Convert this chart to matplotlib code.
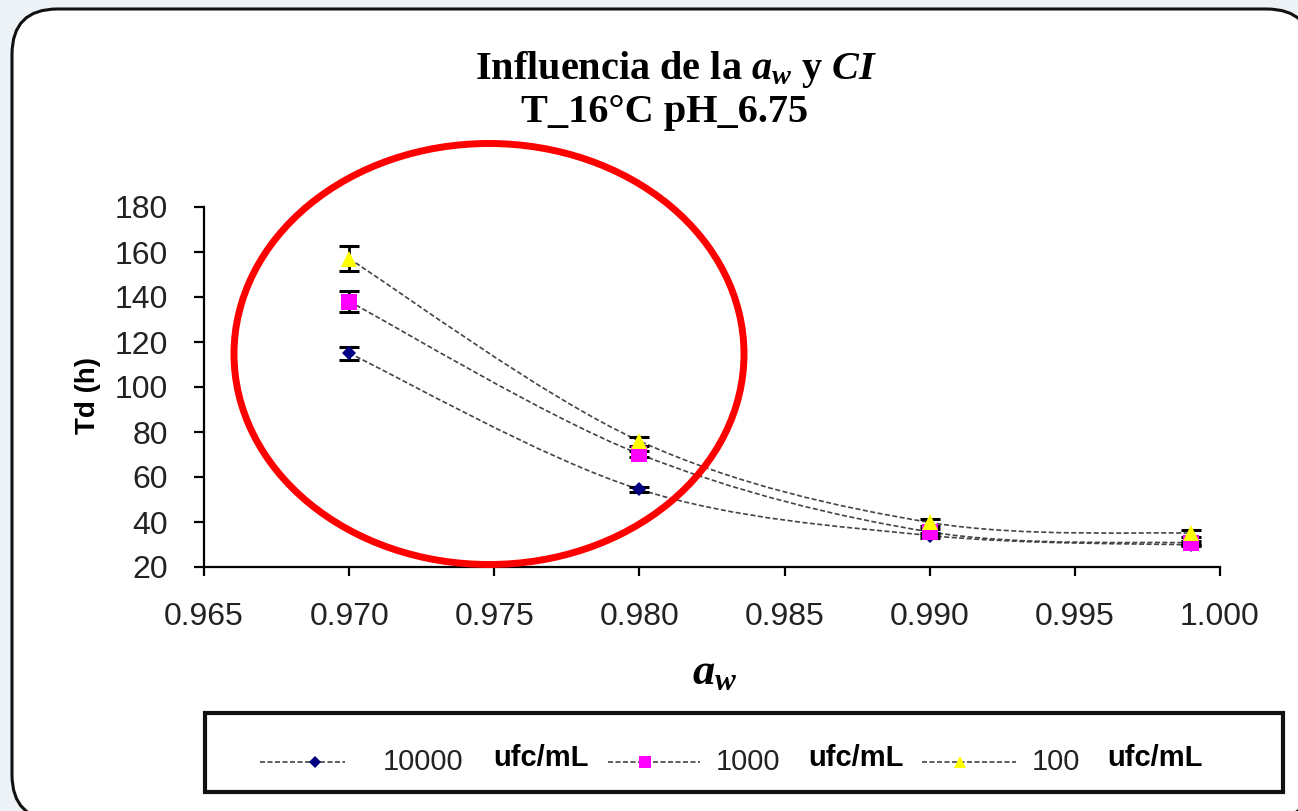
import matplotlib
matplotlib.use("Agg")

import matplotlib.pyplot as plt
from matplotlib.lines import Line2D
from matplotlib.patches import Ellipse, FancyBboxPatch, PathPatch, Rectangle
from matplotlib.path import Path

plt.rcParams["mathtext.fontset"] = "custom"
plt.rcParams["mathtext.rm"] = "Liberation Serif:bold"
plt.rcParams["mathtext.it"] = "Liberation Serif:bold:italic"

aw = [0.970, 0.980, 0.990, 0.999]
td_10000 = [115.0, 54.5, 34.0, 29.8]
td_1000 = [138.0, 70.2, 35.6, 30.7]
td_100 = [157.0, 76.0, 39.8, 35.0]
err_10000 = [3.0, 1.0, 1.0, 0.6]
err_1000 = [4.5, 1.5, 1.5, 1.0]
err_100 = [5.5, 2.0, 1.5, 1.5]
series_labels = ["10000", "1000", "100"]
unit_label = "ufc/mL"

x_ticks = [0.965, 0.970, 0.975, 0.980, 0.985, 0.990, 0.995, 1.000]
y_ticks = [20, 40, 60, 80, 100, 120, 140, 160, 180]

W, H = 1298, 811


def smooth_path(xs, ys):
    # Catmull-Rom curve through the points, expressed as cubic Beziers
    pts = list(zip(xs, ys))
    ext = [pts[0]] + pts + [pts[-1]]
    verts = [pts[0]]
    codes = [Path.MOVETO]
    for i in range(1, len(ext) - 2):
        p0, p1, p2, p3 = ext[i - 1], ext[i], ext[i + 1], ext[i + 2]
        c1 = (p1[0] + (p2[0] - p0[0]) / 6, p1[1] + (p2[1] - p0[1]) / 6)
        c2 = (p2[0] - (p3[0] - p1[0]) / 6, p2[1] - (p3[1] - p1[1]) / 6)
        verts += [c1, c2, p2]
        codes += [Path.CURVE4] * 3
    return Path(verts, codes)


fig = plt.figure(figsize=(W / 100, H / 100), dpi=100, facecolor="#edf2f7")

# rounded chart frame
frame = FancyBboxPatch((12 / W, 1 - 820 / H), 1300 / W, 811 / H,
                       boxstyle="round,pad=0,rounding_size=0.035",
                       transform=fig.transFigure, facecolor="white",
                       edgecolor="#111111", linewidth=2.2, zorder=0,
                       mutation_aspect=W / H)
fig.add_artist(frame)

ax = fig.add_axes([204 / W, 1 - 567 / H, (1220 - 204) / W, (567 - 207) / H])
ax.set_facecolor("none")

styles = [
    (td_10000, err_10000, "D", "#000080", 7.5),
    (td_1000, err_1000, "s", "#ff00ff", 11),
    (td_100, err_100, "^", "#ffff00", 11),
]

for ys, errs, marker, color, ms in styles:
    ax.add_patch(PathPatch(smooth_path(aw, ys), facecolor="none",
                           edgecolor="#444444", linewidth=1.2,
                           linestyle=(0, (3, 1.5)), zorder=2))
    ax.errorbar(aw, ys, yerr=errs, fmt="none", ecolor="black",
                elinewidth=2, capsize=7, capthick=2.2, zorder=3)
    ax.plot(aw, ys, linestyle="none", marker=marker, color=color,
            markersize=ms, markeredgewidth=0, zorder=4)

ax.set_xlim(0.965, 1.000)
ax.set_ylim(20, 180)
ax.set_xticks(x_ticks)
ax.set_xticklabels([f"{v:.3f}" for v in x_ticks])
ax.set_yticks(y_ticks)
ax.set_yticklabels([str(v) for v in y_ticks])

for side in ("top", "right"):
    ax.spines[side].set_visible(False)
for side in ("left", "bottom"):
    ax.spines[side].set_linewidth(1.6)
    ax.spines[side].set_color("black")

ax.tick_params(axis="both", direction="out", width=1.6, color="black",
               labelsize=23, labelcolor="#222222")
ax.tick_params(axis="y", length=7, pad=19)
ax.tick_params(axis="x", length=6.5, pad=19)
for lbl in ax.get_xticklabels() + ax.get_yticklabels():
    lbl.set_family(["Liberation Sans", "DejaVu Sans"])

fig.text(88 / W, 1 - 395 / H, "Td (h)", fontsize=20, fontweight="bold",
         family=["Liberation Sans", "DejaVu Sans"], rotation=90,
         ha="center", va="center")
fig.text(715 / W, 1 - 672 / H, "$a_w$", fontsize=32, ha="center", va="center")

fig.text(676 / W, 1 - 79 / H, "Influencia de la $a_w$ y $CI$",
         fontsize=29, fontweight="bold", family="Liberation Serif",
         ha="center", va="baseline")
fig.text(665 / W, 1 - 122 / H, "T_16°C pH_6.75",
         fontsize=29, fontweight="bold", family="Liberation Serif",
         ha="center", va="baseline")

# red highlight ring
fig.add_artist(Ellipse((489 / W, 1 - 354 / H), 510 / W, 421 / H,
                       transform=fig.transFigure, facecolor="none",
                       edgecolor="#ff0000", linewidth=5, zorder=5))

# legend box
fig.add_artist(Rectangle((205 / W, 1 - 792 / H), (1283 - 205) / W, (792 - 713) / H,
                         transform=fig.transFigure, facecolor="white",
                         edgecolor="#111111", linewidth=3, zorder=5))
leg_y = 1 - 762 / H
entries = [(260, 345, 315, 383, 493), (608, 700, 645, 716, 808), (922, 1016, 960, 1032, 1107)]
for (x0, x1, xm, xt, xu), (_, _, marker, color, ms), label in zip(entries, styles, series_labels):
    fig.add_artist(Line2D([x0 / W, x1 / W], [leg_y, leg_y], transform=fig.transFigure,
                          color="#444444", linewidth=1.2, linestyle=(0, (3, 1.5)), zorder=6))
    fig.add_artist(Line2D([xm / W], [leg_y], transform=fig.transFigure, marker=marker,
                          color=color, markersize=ms * 0.85, markeredgewidth=0, zorder=7))
    fig.text(xt / W, leg_y, label, fontsize=21, color="#222222",
             family="Liberation Sans", ha="left", va="center", zorder=7)
    fig.text(xu / W, leg_y + 0.005, unit_label, fontsize=21, fontweight="bold",
             family="Liberation Sans", ha="left", va="center", zorder=7)

fig.savefig("out.png", dpi=100, facecolor=fig.get_facecolor())
